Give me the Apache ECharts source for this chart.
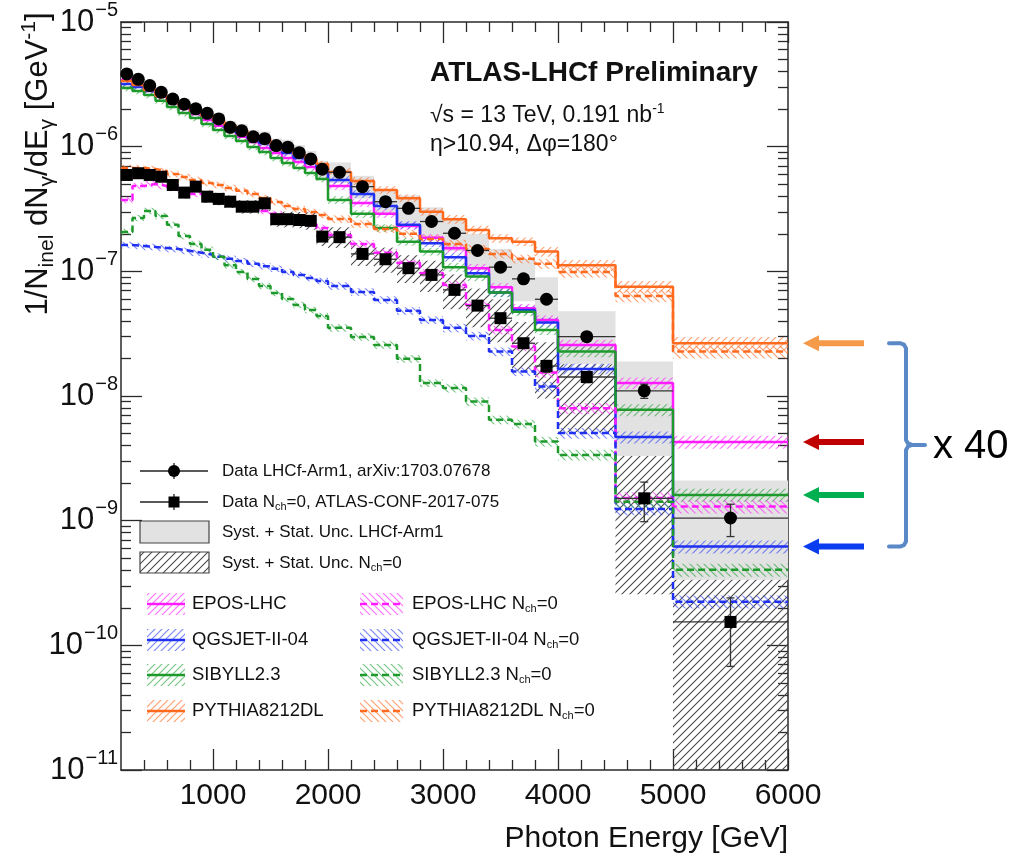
<!DOCTYPE html>
<html>
<head>
<meta charset="utf-8">
<script src="https://cdn.jsdelivr.net/npm/echarts@6/dist/echarts.min.js"></script>
<style>
html,body{margin:0;padding:0;background:#fff;}
#chart{width:1015px;height:857px;}
</style>
</head>
<body>
<div id="chart"></div>
<script>
// ---- Binning [GeV] ----
const binEdges = [200,300,400,500,600,700,800,900,1000,1100,1200,1300,1400,1500,1600,1700,1800,1900,2000,
  2200,2400,2600,2800,3000,3200,3400,3600,3800,4000,4500,5000,6000];

// ---- Measured spectra, 1/N dN/dE [GeV^-1] ----
const lhcfData = [3.83e-6,3.47e-6,3.09e-6,2.73e-6,2.41e-6,2.19e-6,2.01e-6,1.85e-6,1.67e-6,1.43e-6,1.34e-6,1.20e-6,1.16e-6,1.02e-6,9.9e-7,8.95e-7,7.96e-7,6.59e-7,
  6.23e-7,4.78e-7,3.62e-7,3.2e-7,2.51e-7,2.02e-7,1.47e-7,1.08e-7,8.7e-8,5.97e-8,
  2.99e-8,1.10e-8,1.05e-9];
const nch0Data = [5.93e-7,6.12e-7,5.93e-7,5.74e-7,4.93e-7,4.28e-7,4.78e-7,3.97e-7,3.81e-7,3.62e-7,3.30e-7,3.30e-7,3.51e-7,2.62e-7,2.62e-7,2.58e-7,2.54e-7,1.90e-7,
  1.88e-7,1.38e-7,1.25e-7,1.06e-7,9.36e-8,7.10e-8,5.31e-8,4.21e-8,2.65e-8,1.74e-8,
  1.42e-8,1.51e-9,1.54e-10];

// relative statistical errors
const lhcfStat = [0.01,0.01,0.01,0.01,0.01,0.01,0.01,0.01,0.01,0.01,0.01,0.01,0.01,0.01,0.01,0.01,0.01,0.01,
  0.02,0.02,0.03,0.03,0.03,0.04,0.04,0.05,0.05,0.06, 0.06,0.13,0.29];
const nch0Stat = [0.02,0.02,0.02,0.02,0.02,0.02,0.02,0.02,0.02,0.02,0.02,0.02,0.02,0.02,0.02,0.02,0.02,0.02,
  0.03,0.03,0.04,0.04,0.05,0.05,0.06,0.07,0.09,0.11, 0.10,0.35,0.56];

// relative total (syst. + stat.) uncertainties
const lhcfSysUp = [0.10,0.10,0.10,0.10,0.10,0.10,0.11,0.11,0.12,0.12,0.13,0.13,0.14,0.14,0.15,0.15,0.16,0.17,
  0.20,0.22,0.25,0.27,0.30,0.33,0.36,0.40,0.45,0.50, 0.60,0.72,1.00];
const lhcfSysDown = [0.09,0.09,0.09,0.09,0.09,0.09,0.10,0.10,0.11,0.11,0.12,0.12,0.13,0.13,0.14,0.14,0.15,0.15,
  0.18,0.20,0.22,0.24,0.26,0.28,0.30,0.32,0.34,0.36, 0.40,0.70,0.68];
const nch0SysUp = [0.10,0.10,0.10,0.10,0.11,0.11,0.11,0.12,0.12,0.12,0.13,0.13,0.14,0.14,0.15,0.16,0.17,0.18,
  0.20,0.22,0.24,0.27,0.30,0.33,0.37,0.42,0.48,0.55, 0.71,1.30,1.20];
const nch0SysDown = [0.09,0.09,0.09,0.09,0.10,0.10,0.10,0.11,0.11,0.11,0.12,0.12,0.13,0.13,0.14,0.14,0.15,0.16,
  0.18,0.20,0.22,0.24,0.27,0.30,0.33,0.36,0.40,0.45, 0.64,0.83,0.99];

// ---- Model predictions, inclusive ----
const eposIncl = [3.43e-6,3.13e-6,2.85e-6,2.51e-6,2.24e-6,2.01e-6,1.83e-6,1.64e-6,1.47e-6,1.34e-6,1.20e-6,1.09e-6,9.77e-7,8.91e-7,8.11e-7,7.54e-7,6.87e-7,6.27e-7,
  4.84e-7,3.54e-7,2.89e-7,2.31e-7,1.86e-7,1.53e-7,1.06e-7,7.46e-8,5.06e-8,4.07e-8, 2.57e-8,1.27e-8,4.28e-9];
const qgsIncl = [3.18e-6,3.01e-6,2.80e-6,2.55e-6,2.28e-6,2.08e-6,1.90e-6,1.73e-6,1.58e-6,1.41e-6,1.29e-6,1.17e-6,1.07e-6,9.77e-7,8.91e-7,8.11e-7,7.40e-7,6.75e-7,
  5.41e-7,4.18e-7,3.34e-7,2.36e-7,1.68e-7,1.30e-7,9.66e-8,6.75e-8,4.90e-8,3.88e-8, 1.65e-8,4.68e-9,6.2e-10];
const sibIncl = [2.96e-6,2.80e-6,2.60e-6,2.33e-6,2.08e-6,1.86e-6,1.70e-6,1.52e-6,1.36e-6,1.22e-6,1.11e-6,9.95e-7,9.08e-7,8.11e-7,7.40e-7,6.75e-7,6.15e-7,5.51e-7,
  3.74e-7,2.89e-7,2.23e-7,1.73e-7,1.44e-7,1.08e-7,9.08e-8,6.75e-8,4.75e-8,3.39e-8, 2.27e-8,7.74e-9,1.61e-9];
const pyIncl = [3.36e-6,3.13e-6,2.85e-6,2.55e-6,2.33e-6,2.12e-6,1.93e-6,1.76e-6,1.61e-6,1.47e-6,1.34e-6,1.22e-6,1.13e-6,1.03e-6,9.4e-7,8.7e-7,7.96e-7,7.26e-7,
  6.27e-7,5.31e-7,4.50e-7,3.86e-7,3.01e-7,2.62e-7,2.15e-7,1.84e-7,1.73e-7,1.44e-7, 1.12e-7,7.53e-8,2.65e-8];

// ---- Model predictions, N_ch = 0 ----
const eposNch0 = [3.74e-7,4.84e-7,5.02e-7,4.84e-7,4.67e-7,4.42e-7,4.18e-7,4.03e-7,3.81e-7,3.60e-7,3.41e-7,3.22e-7,3.05e-7,2.89e-7,2.68e-7,2.54e-7,2.40e-7,2.23e-7,
  1.96e-7,1.66e-7,1.41e-7,1.17e-7,9.71e-8,7.78e-8,5.38e-8,3.39e-8,2.49e-8,1.54e-8, 7.98e-9,1.52e-9,1.30e-9];
const qgsNch0 = [1.63e-7,1.60e-7,1.57e-7,1.54e-7,1.51e-7,1.46e-7,1.41e-7,1.36e-7,1.31e-7,1.26e-7,1.21e-7,1.15e-7,1.10e-7,1.05e-7,9.89e-8,9.36e-8,8.85e-8,8.38e-8,
  7.64e-8,6.84e-8,5.90e-8,4.82e-8,4.07e-8,3.52e-8,3.03e-8,2.27e-8,1.57e-8,1.19e-8, 5.04e-9,1.24e-9,2.24e-10];
const sibNch0 = [2.07e-7,2.68e-7,3.05e-7,2.78e-7,2.36e-7,1.92e-7,1.66e-7,1.49e-7,1.31e-7,1.12e-7,9.89e-8,8.69e-8,7.64e-8,6.71e-8,6.01e-8,5.38e-8,4.90e-8,4.39e-8,
  3.52e-8,2.98e-8,2.57e-8,1.99e-8,1.27e-8,1.16e-8,9.02e-9,6.44e-9,5.97e-9,4.31e-9, 3.37e-9,1.42e-9,4.03e-10];
const pyNch0 = [6.75e-7,6.75e-7,6.62e-7,6.38e-7,6.04e-7,5.71e-7,5.41e-7,5.12e-7,4.93e-7,4.67e-7,4.42e-7,4.18e-7,3.88e-7,3.60e-7,3.34e-7,3.16e-7,2.99e-7,2.83e-7,
  2.63e-7,2.40e-7,2.19e-7,2.00e-7,1.82e-7,1.66e-7,1.51e-7,1.38e-7,1.26e-7,1.15e-7, 9.89e-8,6.35e-8,2.27e-8];

// relative MC statistical uncertainty (hatched bands)
const mcRel = [0.06,0.06,0.06,0.06,0.06,0.06,0.06,0.06,0.06,0.06,0.06,0.06,0.06,0.06,0.06,0.06,0.06,0.06,
  0.07,0.07,0.07,0.07,0.07,0.08,0.08,0.08,0.08,0.09, 0.10,0.11,0.12];

// ---- Axis ticks ----
const xMajorTicks = [1000,2000,3000,4000,5000,6000];
const xMinorTicks = [400,600,800,1200,1400,1600,1800,2200,2400,2600,2800,3200,3400,3600,3800,4200,4400,4600,4800,5200,5400,5600,5800];
const yRange = [1e-11, 1e-5];
const yMinorTicks = [];
for (let e = -11; e < -5; e++) for (let m = 2; m <= 9; m++) yMinorTicks.push(m * Math.pow(10, e));

const FONT = '"Liberation Sans", Arial, Helvetica, sans-serif';
const AXIS_COLOR = '#2a2a2a';

// ---- hatch fills ----
function hatch(color, dir, size, width) {
  const c = document.createElement('canvas');
  c.width = size; c.height = size;
  const g = c.getContext('2d');
  g.strokeStyle = color; g.lineWidth = width;
  g.beginPath();
  if (dir === '/') {
    g.moveTo(-1, size + 1); g.lineTo(size + 1, -1);
    g.moveTo(-1, 1); g.lineTo(1, -1);
    g.moveTo(size - 1, size + 1); g.lineTo(size + 1, size - 1);
  } else {
    g.moveTo(-1, -1); g.lineTo(size + 1, size + 1);
    g.moveTo(size - 1, -1); g.lineTo(size + 1, 1);
    g.moveTo(-1, size - 1); g.lineTo(1, size + 1);
  }
  g.stroke();
  return { image: c, repeat: 'repeat' };
}
const dataHatch = hatch('#4a4a4a', '/', 8, 1.1);
const grayFill = '#e2e2e2';

const models = [
  { name: 'EPOS-LHC', vals: eposIncl, color: '#ff1cff', hc: 'rgba(255,40,255,0.65)', dash: false },
  { name: 'QGSJET-II-04', vals: qgsIncl, color: '#1f30f2', hc: 'rgba(40,60,245,0.6)', dash: false },
  { name: 'SIBYLL2.3', vals: sibIncl, color: '#1d9a2b', hc: 'rgba(30,160,50,0.6)', dash: false },
  { name: 'PYTHIA8212DL', vals: pyIncl, color: '#ff6a1f', hc: 'rgba(255,110,40,0.65)', dash: false },
  { name: 'EPOS-LHC Nch=0', vals: eposNch0, color: '#ff1cff', hc: 'rgba(255,40,255,0.65)', dash: true },
  { name: 'QGSJET-II-04 Nch=0', vals: qgsNch0, color: '#1f30f2', hc: 'rgba(40,60,245,0.6)', dash: true },
  { name: 'SIBYLL2.3 Nch=0', vals: sibNch0, color: '#1d9a2b', hc: 'rgba(30,160,50,0.6)', dash: true },
  { name: 'PYTHIA8212DL Nch=0', vals: pyNch0, color: '#ff6a1f', hc: 'rgba(255,110,40,0.65)', dash: true }
];
models.forEach(m => { m.pattern = hatch(m.hc, m.dash ? '\\' : '/', 7, 1.2); });

const nBins = binEdges.length - 1;
const centers = [];
for (let i = 0; i < nBins; i++) centers.push((binEdges[i] + binEdges[i + 1]) / 2);

// rectangles from [lo edge, hi edge, low value, high value]
function bandSeries(name, vals, up, down, fill, z) {
  const data = vals.map((v, i) => [binEdges[i], binEdges[i + 1], Math.max(v * (1 - down[i]), yRange[0]), v * (1 + up[i])]);
  return {
    type: 'custom', name, z, silent: true, animation: false,
    data, encode: { x: [0, 1], y: [2, 3] },
    renderItem(params, api) {
      const p0 = api.coord([api.value(0), api.value(3)]);
      const p1 = api.coord([api.value(1), api.value(2)]);
      return { type: 'rect', shape: { x: p0[0], y: p0[1], width: p1[0] - p0[0], height: p1[1] - p0[1] }, style: { fill } };
    }
  };
}

function stepData(vals) {
  const d = [];
  vals.forEach((v, i) => { d.push([binEdges[i], v]); d.push([binEdges[i + 1], v]); });
  return d;
}

function errorSeries(name, vals, stat, z) {
  const data = vals.map((v, i) => [binEdges[i], binEdges[i + 1], centers[i], v, v * (1 - stat[i]), v * (1 + stat[i])]);
  return {
    type: 'custom', name, z, silent: true, animation: false,
    data, encode: { x: [0, 1, 2], y: [3, 4, 5] },
    renderItem(params, api) {
      const l = api.coord([api.value(0), api.value(3)]);
      const r = api.coord([api.value(1), api.value(3)]);
      const lo = api.coord([api.value(2), api.value(4)]);
      const hi = api.coord([api.value(2), api.value(5)]);
      const st = { stroke: '#333', lineWidth: 1.3 };
      const cap = 4;
      return { type: 'group', children: [
        { type: 'line', shape: { x1: l[0], y1: l[1], x2: r[0], y2: r[1] }, style: st },
        { type: 'line', shape: { x1: lo[0], y1: lo[1], x2: hi[0], y2: hi[1] }, style: st },
        { type: 'line', shape: { x1: lo[0] - cap, y1: lo[1], x2: lo[0] + cap, y2: lo[1] }, style: st },
        { type: 'line', shape: { x1: hi[0] - cap, y1: hi[1], x2: hi[0] + cap, y2: hi[1] }, style: st }
      ] };
    }
  };
}

const series = [];
series.push(bandSeries('Syst. + Stat. Unc. Nch=0', nch0Data, nch0SysUp, nch0SysDown, dataHatch, 1));
series.push(bandSeries('Syst. + Stat. Unc. LHCf-Arm1', lhcfData, lhcfSysUp, lhcfSysDown, grayFill, 2));
models.forEach(m => series.push(bandSeries(m.name + ' unc', m.vals, mcRel, mcRel, m.pattern, 3)));
models.forEach(m => series.push({
  type: 'line', name: m.name, data: stepData(m.vals), z: 4, silent: true, animation: false,
  symbol: 'none', showSymbol: false,
  lineStyle: { color: m.color, width: 2.5, type: m.dash ? [7, 4] : 'solid' }
}));
series.push(errorSeries('LHCf err', lhcfData, lhcfStat, 5));
series.push(errorSeries('Nch0 err', nch0Data, nch0Stat, 5));
series.push({ type: 'scatter', name: 'Data LHCf-Arm1', z: 6, silent: true, animation: false,
  data: lhcfData.map((v, i) => [centers[i], v]), symbol: 'circle', symbolSize: 13, itemStyle: { color: '#000', opacity: 1 } });
series.push({ type: 'scatter', name: 'Data Nch=0', z: 6, silent: true, animation: false,
  data: nch0Data.map((v, i) => [centers[i], v]), symbol: 'rect', symbolSize: 12, itemStyle: { color: '#000', opacity: 1 } });

function xAxisCfg(pos, ticks, len, major) {
  return {
    type: 'value', min: binEdges[0], max: binEdges[nBins], position: pos,
    axisLine: { show: major, onZero: false, lineStyle: { color: AXIS_COLOR, width: 1.5 } },
    axisTick: { show: true, inside: true, length: len, customValues: ticks, lineStyle: { color: AXIS_COLOR, width: 1.3 } },
    axisLabel: (major && pos === 'bottom') ? { show: true, customValues: xMajorTicks, formatter: v => String(v),
      fontSize: 30, color: '#111', fontFamily: FONT, margin: 11 } : { show: false },
    splitLine: { show: false }
  };
}
function yAxisCfg(pos, len, major) {
  const cfg = {
    type: 'log', logBase: 10, min: yRange[0], max: yRange[1], position: pos, splitNumber: 6,
    axisLine: { show: major, onZero: false, lineStyle: { color: AXIS_COLOR, width: 1.5 } },
    axisTick: { show: true, inside: true, length: len, lineStyle: { color: AXIS_COLOR, width: 1.3 } },
    axisLabel: { show: false },
    splitLine: { show: false }
  };
  if (!major) cfg.axisTick.customValues = yMinorTicks;
  if (major && pos === 'left') {
    cfg.axisLabel = {
      show: true, margin: 3, color: '#111',
      formatter: v => '{b|10}{s|\u2212' + (-Math.round(Math.log10(v))) + '}',
      rich: {
        b: { fontSize: 31, fontFamily: FONT, color: '#111', lineHeight: 31 },
        s: { fontSize: 20, fontFamily: FONT, color: '#111', lineHeight: 20, padding: [0, 0, 24, 1] }
      }
    };
  }
  return cfg;
}

const option = {
  backgroundColor: '#fff',
  animation: false,
  grid: { left: 121, top: 22, width: 667, height: 748, containLabel: false },
  xAxis: [
    xAxisCfg('bottom', xMajorTicks, 21, true),
    xAxisCfg('bottom', xMinorTicks, 10, false),
    xAxisCfg('top', xMajorTicks, 21, true),
    xAxisCfg('top', xMinorTicks, 10, false)
  ],
  yAxis: [
    yAxisCfg('left', 21, true),
    yAxisCfg('left', 10, false),
    yAxisCfg('right', 21, true),
    yAxisCfg('right', 10, false)
  ],
  series
};

const chart = echarts.init(document.getElementById('chart'), null, { renderer: 'canvas', width: 1015, height: 857 });
chart.setOption(option);

// ---- text, legend and side annotations ----
const G = [];
function txt(x, y, text, size, rich, extra) {
  const r = {};
  Object.keys(rich || {}).forEach(k => { r[k] = Object.assign({ fontFamily: FONT, fill: '#111' }, rich[k]); });
  G.push(Object.assign({ type: 'text', x, y, silent: true,
    style: Object.assign({ text, fontSize: size, fontFamily: FONT, fill: '#111', verticalAlign: 'middle', rich: r }, (extra && extra.style) || {}) },
    extra && extra.props || {}));
}
const subRich = (size) => ({ t: { fontSize: size, lineHeight: size + 2 }, sub: { fontSize: Math.round(size * 0.62), padding: [Math.round(size * 0.55), 0, 0, 0] },
  sup: { fontSize: Math.round(size * 0.62), padding: [0, 0, Math.round(size * 0.6), 0] } });

// y-axis title
txt(38, 164, '{t|1/N}{sub|inel}{t| dN}{sub|\u03b3}{t|/dE}{sub|\u03b3}{t| [GeV}{sup|-1}{t|]}', 31, {
  t: { fontSize: 31, lineHeight: 34 }, sub: { fontSize: 21, padding: [18, 0, 0, 0] }, sup: { fontSize: 21, padding: [0, 0, 18, 0] }
}, { style: { align: 'center' }, props: { rotation: Math.PI / 2 } });
// x-axis title
txt(788, 839, 'Photon Energy [GeV]', 30, null, { style: { align: 'right' } });

// header
txt(430, 73, 'ATLAS-LHCf Preliminary', 28, null, { style: { fontWeight: 'bold' } });
txt(430, 116, '{t|\u221As = 13 TeV, 0.191 nb}{sup|-1}', 23, subRich(23));
txt(430, 145, '\u03b7>10.94, \u0394\u03c6=180\u00b0', 23, null);

// legend: data
const lineSt = { stroke: '#222', lineWidth: 1.3 };
[[471, 'circle'], [502, 'square']].forEach(([y, kind]) => {
  G.push({ type: 'line', silent: true, shape: { x1: 140, y1: y, x2: 208, y2: y }, style: lineSt });
  G.push({ type: 'line', silent: true, shape: { x1: 174, y1: y - 8, x2: 174, y2: y + 8 }, style: lineSt });
  if (kind === 'circle') G.push({ type: 'circle', silent: true, shape: { cx: 174, cy: y, r: 6 }, style: { fill: '#000' } });
  else G.push({ type: 'rect', silent: true, shape: { x: 168.5, y: y - 5.5, width: 11, height: 11 }, style: { fill: '#000' } });
});
txt(222, 471, 'Data LHCf-Arm1, arXiv:1703.07678', 17, null);
txt(222, 502, '{t|Data N}{sub|ch}{t|=0, ATLAS-CONF-2017-075}', 17, subRich(17));
G.push({ type: 'rect', silent: true, shape: { x: 140, y: 521, width: 69, height: 22 }, style: { fill: grayFill, stroke: '#444', lineWidth: 1.2 } });
G.push({ type: 'rect', silent: true, shape: { x: 140, y: 552, width: 69, height: 21 }, style: { fill: dataHatch, stroke: '#444', lineWidth: 1.2 } });
txt(222, 532, 'Syst. + Stat. Unc. LHCf-Arm1', 17, null);
txt(222, 563, '{t|Syst. + Stat. Unc. N}{sub|ch}{t|=0}', 17, subRich(17));

// legend: models
const rowsY = [604, 640, 675, 711];
models.forEach((m, k) => {
  const col = m.dash ? 1 : 0;
  const y = rowsY[k % 4];
  const x0 = col ? 360 : 147, w = col ? 43 : 38;
  G.push({ type: 'rect', silent: true, shape: { x: x0, y: y - 11, width: w, height: 22 }, style: { fill: m.pattern } });
  G.push({ type: 'line', silent: true, shape: { x1: x0, y1: y, x2: x0 + w, y2: y },
    style: { stroke: m.color, lineWidth: 2.5, lineDash: m.dash ? [7, 4] : null } });
  const label = m.dash ? '{t|' + m.name.replace(' Nch=0', ' N') + '}{sub|ch}{t|=0}' : '{t|' + m.name + '}';
  txt(col ? 412 : 192, y, label, 18.5, subRich(18.5));
});

// side annotation: arrows at the last-bin inclusive predictions, bracket and factor
const last = nBins - 1;
const arrowSpecs = [
  { v: pyIncl[last], color: '#f59a48' },
  { v: eposIncl[last], color: '#c00000' },
  { v: sibIncl[last], color: '#00b050' },
  { v: qgsIncl[last], color: '#0a3cf0' }
];
const ys = arrowSpecs.map(a => chart.convertToPixel({ xAxisIndex: 0, yAxisIndex: 0 }, [centers[last], a.v])[1]);
arrowSpecs.forEach((a, k) => {
  const y = ys[k];
  G.push({ type: 'polygon', silent: true, shape: { points: [[803, y], [819, y - 8], [819, y - 3], [864, y - 3], [864, y + 3], [819, y + 3], [819, y + 8]] },
    style: { fill: a.color } });
});
const yt = ys[0], yb = ys[3], ym = (yt + yb) / 2;
G.push({ type: 'polyline', silent: true, shape: { points: [
    [889, yt], [900, yt], [904, yt + 1.5], [906, yt + 5], [906, ym - 5], [908, ym - 1.5], [912, ym], [925, ym], [912, ym],
    [908, ym + 1.5], [906, ym + 5], [906, yb - 5], [904, yb - 1.5], [900, yb], [889, yb]
  ] },
  style: { fill: null, stroke: '#5b89c7', lineWidth: 4, lineJoin: 'round', lineCap: 'round' } });
txt(933, ym + 2, 'x 40', 40, null, { style: { fill: '#000' } });

chart.setOption({ graphic: G });
</script>
</body>
</html>
